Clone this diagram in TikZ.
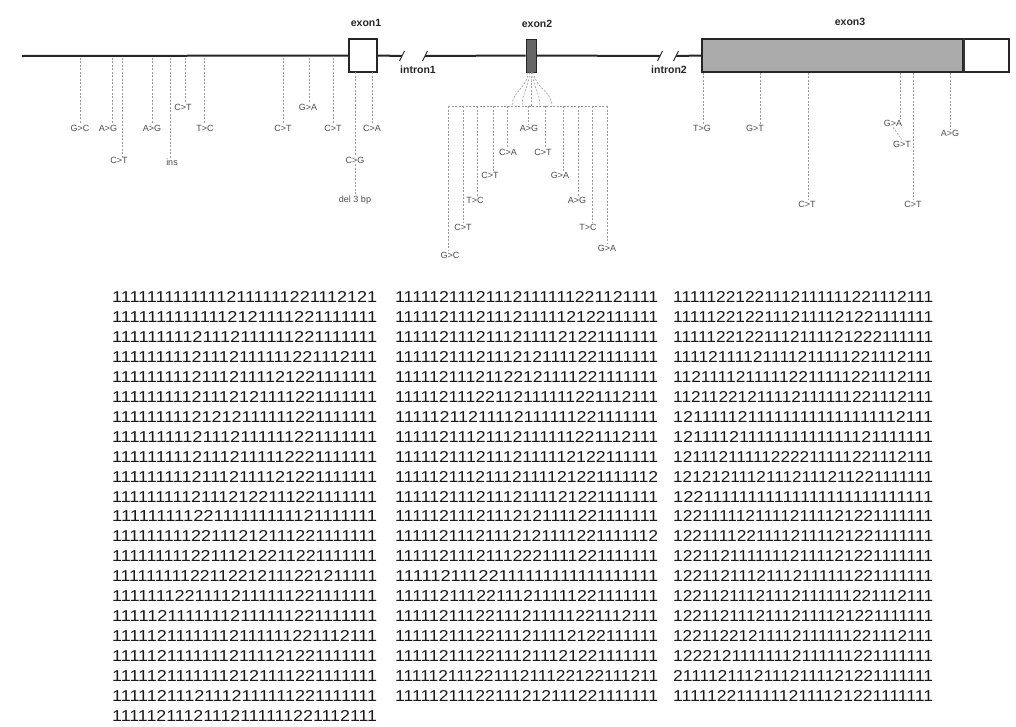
\documentclass[tikz,border=0pt]{standalone}
\usepackage{fontspec}
\setmainfont{Liberation Sans}
\usepackage{graphicx}
\begin{document}
\begin{tikzpicture}[x=1pt,y=-1pt,
  mainline/.style={line width=2pt, draw=black!85},
  var/.style={draw=black!40, dash pattern=on 2pt off 1.5pt, line width=0.6pt},
  lab/.style={font=\fontsize{9}{9}\selectfont, text=black!70, inner sep=1pt},
  exonlab/.style={font=\bfseries\fontsize{10.5}{10.5}\selectfont, text=black!85},
  seq/.style={anchor=west, inner sep=0pt, text=black!90},
  brk/.style={line width=1pt, draw=black!80}]
\useasboundingbox (0,0) rectangle (1016,726);
% exons
\node[draw=black!85, line width=1.2pt, fill=white, minimum width=28pt, minimum height=33pt, inner sep=0pt] (e1) at (363,55.5) {};
\node[draw=black!85, line width=0.8pt, fill=black!60, minimum width=10pt, minimum height=33pt, inner sep=0pt] (e2) at (531,55.5) {};
\node[draw=black!85, line width=1.2pt, fill=black!33, minimum width=261pt, minimum height=33pt, inner sep=0pt] (e3a) at (832.5,55.5) {};
\node[draw=black!85, line width=1.2pt, fill=white, minimum width=46pt, minimum height=33pt, inner sep=0pt] (e3b) at (986,55.5) {};
\draw[line width=2pt, black!80] (e3a.north east) -- (e3a.south east);
% main line
\coordinate (s) at (22,56);
\coordinate (i1a) at (402,56);
\coordinate (i1b) at (425,56);
\coordinate (i2a) at (660,56);
\coordinate (i2b) at (676,56);
\draw[mainline] (s) -- (e1.west);
\draw[mainline] (e1.east) -- (i1a);
\draw[mainline] (i1b) -- (e2.west);
\draw[mainline] (e2.east) -- (i2a);
\draw[mainline] (i2b) -- (e3a.west);
\foreach \c in {i1a,i1b,i2a,i2b}{\draw[brk] ([shift={(-2.5,5)}]\c) -- ([shift={(2.5,-5)}]\c);}
% labels
\node[exonlab] (l1) at (366,23) {exon1};
\node[exonlab] (l2) at (537,24) {exon2};
\node[exonlab] (l3) at (850,22) {exon3};
\node[exonlab] (li1) at (418,70) {intron1};
\node[exonlab] (li2) at (669,70) {intron2};
% variants along the 5' region
\foreach \x/\lx/\ly/\t [count=\i] in {80/80/128/G>C,112/108/128/A>G,122/119/160/C>T,152/152/128/A>G,170/172/162/ins,185/183/107/C>T,204/205/128/T>C,283/283/128/C>T,309/308/107/G>A,333/333/128/C>T}{
  \node[lab] (v\i) at (\lx,\ly) {\t};
  \coordinate (p\i) at (\x,57.5);
  \draw[var] (p\i) -- (p\i |- v\i.north);
}
% exon1 variants
\node[lab] (x1) at (372,128) {C>A};
\node[lab] (x2) at (355,160) {C>G};
\node[lab] (x3) at (355,200) {del 3 bp};
\coordinate (q1) at (372,72);
\coordinate (q2) at (355,72);
\draw[var] (q1) -- (x1.north);
\draw[var] (q2) -- (x2.north);
\draw[var] (x2.south) -- (x3.north);
% exon2 fan
\coordinate (hl) at (448,106);
\coordinate (hr) at (607,106);
\draw[var] (hl) -- (hr);
\foreach \dx/\tx in {-3/512,-1.5/522,0/531,1.5/540,3/552}{
  \coordinate (f\tx) at (\tx,106);
  \draw[var] ([xshift=\dx pt]e2.south) to[out=-90,in=90] (f\tx);
}
\foreach \x/\lx/\ly/\t [count=\i] in {448/450/255/G>C,463/463/227/C>T,477/475/200/T>C,493/490/175/C>T,507/508/152/C>A,528/529/128/A>G,545/543/152/C>T,563/560/175/G>A,578/577/200/A>G,592/588/227/T>C,607/607/248/G>A}{
  \node[lab] (w\i) at (\lx,\ly) {\t};
  \coordinate (r\i) at (\x,106);
  \draw[var] (r\i) -- (r\i |- w\i.north);
}
% exon3 variants
\foreach \x/\lx/\ly/\t [count=\i] in {703/702/128/T>G,760/755/128/G>T,808/807/204/C>T,900/893/123/G>A,913/913/204/C>T,950/950/133/A>G}{
  \node[lab] (u\i) at (\lx,\ly) {\t};
  \coordinate (t\i) at (\x,72.5);
  \draw[var] (t\i) -- (t\i |- u\i.north);
}
\node[lab] (u7) at (902,144) {G>T};
\draw[var] (u4.south) -- (u7.north);
% sequences
\foreach \s [count=\i] in {11111111111112111111221112121,11111111111112121111221111111,11111111121112111111221111111,11111111121112111111221112111,11111111121112111121221111111,11111111121112121111221111111,11111111121212111111221111111,11111111121112111111221111111,11111111121112111112221111111,11111111121112111121221111111,11111111121112122111221111111,11111111122111111111121111111,11111111122111212111221111111,11111111122111212211221111111,11111111122112212111221211111,11111112211112111111221111111,11111211111112111111221111111,11111211111112111111221112111,11111211111112111121221111111,11111211111112121111221111111,11111211121112111111221111111,11111211121112111111221112111}{
  \node[seq] (a\i) at (112,{297+19.95*(\i-1)}) {\resizebox{265pt}{11pt}{\s}};
}
\foreach \s [count=\i] in {11111211121112111111221121111,11111211121112111112122111111,11111211121112111121221111111,11111211121112121111221111111,11111211121122121111221111111,11111211122112111111221112111,11111211211112111111221111111,11111211121112111111221112111,11111211121112111112122111111,11111211121112111121221111112,11111211121112111121221111111,11111211121112121111221111111,11111211121112121111221111112,11111211121112221111221111111,11111211122111111111111111111,11111211122111211111221111111,11111211122111211111221112111,11111211122111211112122111111,11111211122111211121221111111,11111211122111211122122111211,11111211122111212111221111111}{
  \node[seq] (b\i) at (395,{297+19.95*(\i-1)}) {\resizebox{263pt}{11pt}{\s}};
}
\foreach \s [count=\i] in {11111221221112111111221112111,11111221221112111121221111111,11111221221112111121222111111,11112111121111211111221112111,11211112111112211111221112111,11211221211112111111221112111,12111112111111111111111112111,12111121111111111111121111111,12111211111222211111221112111,12121211121112111211221111111,12211111111111111111111111111,12211111211112111121221111111,12211112211112111121221111111,12211211111112111121221111111,12211211121112111111221111111,12211211121112111111221112111,12211211121112111121221111111,12211221211112111111221112111,12221211111112111111221111111,21111211121112111121221111111,11111221111112111121221111111}{
  \node[seq] (c\i) at (673,{297+19.95*(\i-1)}) {\resizebox{260pt}{11pt}{\s}};
}
\end{tikzpicture}
\end{document}
